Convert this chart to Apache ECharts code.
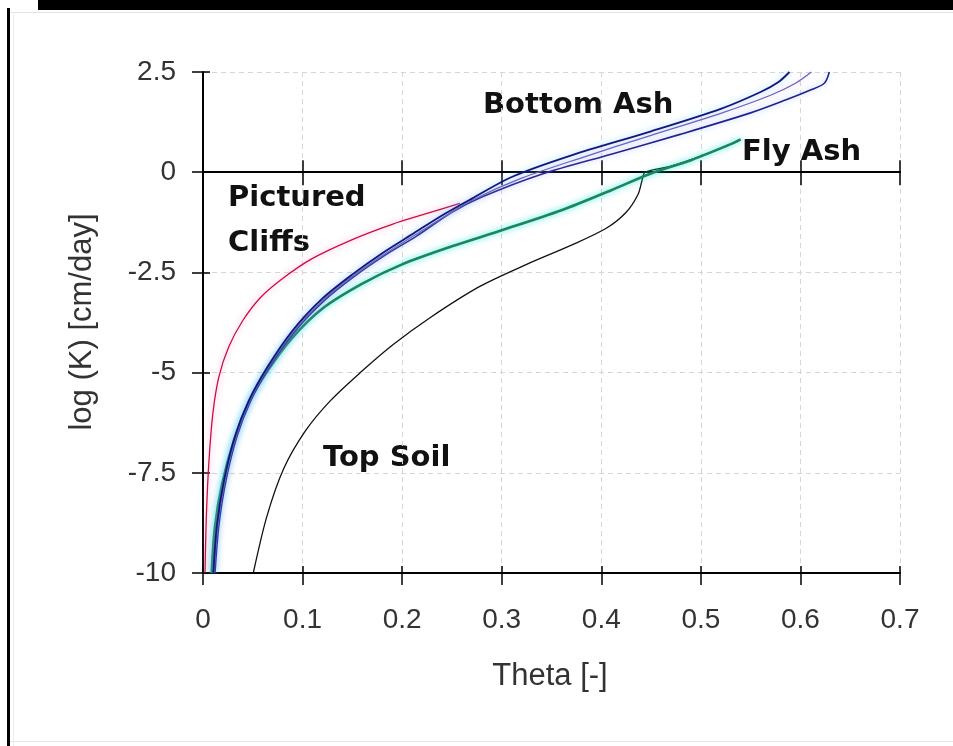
<!DOCTYPE html>
<html>
<head>
<meta charset="utf-8">
<script src="https://cdn.jsdelivr.net/npm/echarts@6/dist/echarts.min.js"></script>
<style>
  html, body { margin: 0; padding: 0; background: #fff; }
  #chart { width: 953px; height: 746px; }
</style>
</head>
<body>
<div id="chart"></div>
<script>
// axis ticks
const thetaTicks = [0, 0.7, 0.1];      // min, max, step
const logKTicks = [-10, 2.5, 2.5];

// Pictured Cliffs (red)
const pcTheta = [0.002, 0.0035, 0.006, 0.01, 0.016, 0.026, 0.04, 0.058, 0.08, 0.11, 0.15, 0.19, 0.225, 0.258];
const pcLogK  = [-10, -8.5, -7.2, -6.0, -5.1, -4.35, -3.7, -3.12, -2.65, -2.15, -1.68, -1.3, -1.03, -0.78];

// Bottom Ash, three runs
const baUpperTheta = [0.0104, 0.014, 0.021, 0.032, 0.046, 0.065, 0.09, 0.12, 0.15, 0.18, 0.21, 0.24, 0.27, 0.31, 0.37, 0.45, 0.52, 0.56, 0.578, 0.589];
const baUpperLogK  = [-10, -8.8, -7.7, -6.6, -5.7, -4.85, -3.95, -3.15, -2.55, -2.02, -1.55, -1.08, -0.66, -0.12, 0.42, 1.02, 1.58, 2.0, 2.25, 2.5];
const baMidTheta = [0.011, 0.015, 0.022, 0.033, 0.047, 0.066, 0.091, 0.121, 0.151, 0.182, 0.212, 0.243, 0.27, 0.32, 0.38, 0.45, 0.52, 0.57, 0.595, 0.611];
const baMidLogK  = [-10, -8.8, -7.7, -6.6, -5.7, -4.85, -3.97, -3.18, -2.58, -2.05, -1.58, -1.1, -0.7, -0.15, 0.36, 0.92, 1.47, 1.92, 2.22, 2.5];
const baLowerTheta = [0.012, 0.016, 0.023, 0.034, 0.048, 0.067, 0.092, 0.122, 0.152, 0.183, 0.214, 0.25, 0.28, 0.34, 0.41, 0.48, 0.55, 0.585, 0.61, 0.624, 0.629];
const baLowerLogK  = [-10, -8.8, -7.7, -6.6, -5.7, -4.85, -3.98, -3.2, -2.6, -2.07, -1.6, -1.0, -0.62, -0.05, 0.45, 0.95, 1.48, 1.8, 2.05, 2.22, 2.5];

// Fly Ash (green)
const faTheta = [0.0087, 0.012, 0.019, 0.031, 0.046, 0.065, 0.09, 0.12, 0.16, 0.2, 0.25, 0.3, 0.36, 0.41, 0.448, 0.49, 0.53, 0.54];
const faLogK  = [-10, -8.85, -7.8, -6.7, -5.75, -4.95, -4.12, -3.4, -2.78, -2.3, -1.85, -1.45, -0.95, -0.45, -0.05, 0.3, 0.7, 0.82];

// Top Soil (black)
const tsTheta = [0.0505, 0.064, 0.081, 0.103, 0.128, 0.158, 0.191, 0.228, 0.278, 0.325, 0.37, 0.405, 0.425, 0.437, 0.441, 0.444, 0.47, 0.5, 0.535];
const tsLogK  = [-10, -8.6, -7.4, -6.45, -5.7, -5.0, -4.3, -3.63, -2.85, -2.3, -1.82, -1.4, -1.0, -0.55, -0.2, 0, 0.15, 0.4, 0.75];

const pairs = (xs, ys) => xs.map((x, i) => [x, ys[i]]);

const labelFont = '"Liberation Sans", Arial, sans-serif';
const noteFont = '"DejaVu Sans", sans-serif';

function curve(name, xs, ys, color, width, glow) {
  return {
    name, type: 'line', data: pairs(xs, ys),
    xAxisIndex: 0, yAxisIndex: 0,
    showSymbol: false, smooth: 0.3,
    lineStyle: { color, width, shadowColor: glow, shadowBlur: glow ? 6 : 0 },
    silent: true, animation: false
  };
}

const chart = echarts.init(document.getElementById('chart'));

const tickAxisX = (onZero, inside, len) => ({
  type: 'value', min: thetaTicks[0], max: thetaTicks[1], interval: thetaTicks[2],
  position: 'bottom',
  axisLine: { show: true, onZero, onZeroAxisIndex: 0, lineStyle: { color: '#000', width: 2 } },
  axisTick: { show: true, inside, length: len, lineStyle: { color: '#000', width: 1.5 } },
  axisLabel: { show: false }, splitLine: { show: false }
});

chart.setOption({
  backgroundColor: '#fff',
  animation: false,
  grid: { left: 203, top: 72, width: 697, height: 501, containLabel: false },
  xAxis: [
    {
      type: 'value', min: thetaTicks[0], max: thetaTicks[1], interval: thetaTicks[2],
      position: 'bottom',
      axisLine: { show: true, onZero: false, lineStyle: { color: '#000', width: 2 } },
      axisTick: { show: true, length: 12, lineStyle: { color: '#000', width: 1.5 } },
      axisLabel: { margin: 33, fontSize: 28, color: '#333', fontFamily: labelFont },
      splitLine: { show: true, lineStyle: { color: '#d6d6d6', type: [5, 4], width: 1 } }
    },
    tickAxisX(false, true, 7),
    tickAxisX(true, false, 13),
    tickAxisX(true, true, 12)
  ],
  yAxis: [
    {
      type: 'value', min: logKTicks[0], max: logKTicks[1], interval: logKTicks[2],
      position: 'left',
      axisLine: { show: true, onZero: false, lineStyle: { color: '#000', width: 2 } },
      axisTick: { show: true, length: 11, lineStyle: { color: '#000', width: 1.5 } },
      axisLabel: { margin: 27, fontSize: 28, color: '#333', fontFamily: labelFont },
      splitLine: { show: true, lineStyle: { color: '#d6d6d6', type: [5, 4], width: 1 } }
    },
    {
      type: 'value', min: logKTicks[0], max: logKTicks[1], interval: logKTicks[2],
      position: 'left',
      axisLine: { show: false, onZero: false },
      axisTick: { show: true, inside: true, length: 7, lineStyle: { color: '#000', width: 1.5 } },
      axisLabel: { show: false }, splitLine: { show: false }
    }
  ],
  series: [
    curve('Top Soil', tsTheta, tsLogK, '#111', 1.3, null),
    curve('Fly Ash', faTheta, faLogK, '#17885a', 2.6, 'rgba(0,220,230,0.8)'),
    curve('Pictured Cliffs', pcTheta, pcLogK, '#c8103a', 1.3, 'rgba(255,120,200,0.8)'),
    curve('Bottom Ash 3', baLowerTheta, baLowerLogK, '#23238f', 1.6, 'rgba(120,160,255,0.6)'),
    curve('Bottom Ash 2', baMidTheta, baMidLogK, '#6f5fb5', 1.3, 'rgba(200,160,255,0.6)'),
    curve('Bottom Ash 1', baUpperTheta, baUpperLogK, '#14147a', 1.8, 'rgba(60,200,255,0.6)')
  ],
  graphic: [
    { type: 'rect', shape: { x: 38, y: 0, width: 915, height: 10 }, style: { fill: '#000' } },
    { type: 'rect', shape: { x: 7, y: 8, width: 3, height: 738 }, style: { fill: '#000' } },
    { type: 'rect', shape: { x: 10, y: 12, width: 943, height: 1 }, style: { fill: '#e2e2e2' } },
    { type: 'rect', shape: { x: 13, y: 12, width: 1, height: 734 }, style: { fill: '#ececec' } },
    { type: 'rect', shape: { x: 10, y: 741, width: 943, height: 1 }, style: { fill: '#e6e6e6' } },
    { type: 'text', x: 550, y: 676, style: { text: 'Theta [-]', font: '31px ' + labelFont, fill: '#333', align: 'center', verticalAlign: 'middle' } },
    { type: 'text', x: 82, y: 322, rotation: Math.PI / 2, style: { text: 'log (K) [cm/day]', font: '31px ' + labelFont, fill: '#333', align: 'center', verticalAlign: 'middle' } },
    { type: 'text', x: 483, y: 105, style: { text: 'Bottom Ash', font: 'bold 29px ' + noteFont, fill: '#111', verticalAlign: 'middle' } },
    { type: 'text', x: 742, y: 152, style: { text: 'Fly Ash', font: 'bold 29px ' + noteFont, fill: '#111', verticalAlign: 'middle' } },
    { type: 'text', x: 228, y: 198, style: { text: 'Pictured', font: 'bold 29px ' + noteFont, fill: '#111', verticalAlign: 'middle' } },
    { type: 'text', x: 228, y: 243, style: { text: 'Cliffs', font: 'bold 29px ' + noteFont, fill: '#111', verticalAlign: 'middle' } },
    { type: 'text', x: 323, y: 458, style: { text: 'Top Soil', font: 'bold 29px ' + noteFont, fill: '#111', verticalAlign: 'middle' } }
  ]
});
</script>
</body>
</html>
